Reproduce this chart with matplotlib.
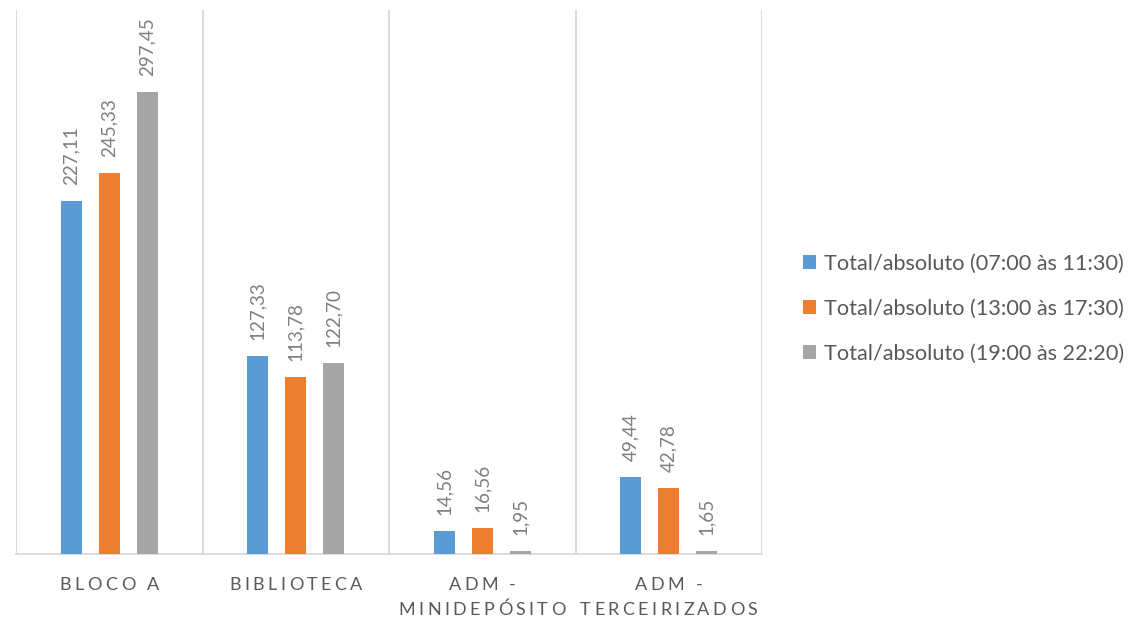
import matplotlib
matplotlib.use("Agg")
import matplotlib.pyplot as plt
from matplotlib.font_manager import FontProperties
import numpy as np

categories = ["BLOCO A", "BIBLIOTECA", "ADM -\nMINIDEPÓSITO", "ADM -\nTERCEIRIZADOS"]
series_names = ["Total/absoluto (07:00 às 11:30)",
                "Total/absoluto (13:00 às 17:30)",
                "Total/absoluto (19:00 às 22:20)"]
manha = [227.11, 127.33, 14.56, 49.44]
tarde = [245.33, 113.78, 16.56, 42.78]
noite = [297.45, 122.70, 1.95, 1.65]
colors = ["#5B9BD5", "#ED7D31", "#A5A5A5"]

plt.rcParams['font.family'] = ['Lato', 'DejaVu Sans']

W, H = 1135, 637
fig = plt.figure(figsize=(W / 100, H / 100), dpi=100)
ax = fig.add_axes([16 / W, 83 / H, (762 - 16) / W, (554 - 10) / H])

x = np.arange(len(categories))
offsets = [-0.204, 0.0, 0.204]
width = 0.113
handles = []
for vals, off, c, name in zip([manha, tarde, noite], offsets, colors, series_names):
    bars = ax.bar(x + off, vals, width, color=c, label=name, zorder=3)
    handles.append(bars)
    for xi, v in zip(x + off, vals):
        ax.annotate(f"{v:.2f}".replace(".", ","), (xi, v), xytext=(0, 11.5),
                    textcoords="offset points", rotation=90, ha="center", va="bottom",
                    fontsize=13.6, color="#7F7F7F")

ax.set_xlim(-0.5, len(categories) - 0.5)
ax.set_ylim(0, 350)
ax.set_yticks([])
ax.set_xticks([])
for b in np.arange(-0.5, len(categories), 1.0):
    ax.axvline(b, color="#D9D9D9", lw=1.3, zorder=1)
for s in ["top", "left", "right"]:
    ax.spines[s].set_visible(False)
ax.spines["bottom"].set_color("#D9D9D9")
ax.spines["bottom"].set_linewidth(1.3)

# category labels with letter spacing (drawn char by char)
renderer = fig.canvas.get_renderer()
fp = FontProperties(family=['Lato', 'DejaVu Sans'], size=13)

def char_w(ch):
    w1 = renderer.get_text_width_height_descent("X" + ch + "X", fp, ismath=False)[0]
    w0 = renderer.get_text_width_height_descent("XX", fp, ismath=False)[0]
    return w1 - w0

spacing_px = 3.4
for xi, cat in zip(x, categories):
    cx = ax.transData.transform((xi, 0))[0]
    for j, line in enumerate(cat.split("\n")):
        ws = [char_w(ch) for ch in line]
        total = sum(ws) + spacing_px * (len(line) - 1)
        px = cx - total / 2
        base = 590 + 25 * j
        for ch, w in zip(line, ws):
            fig.text(px / W, 1 - base / H, ch, fontproperties=fp, color="#595959",
                     ha="left", va="baseline")
            px += w + spacing_px

leg = fig.legend(handles=handles, labels=series_names, loc="upper left",
                 bbox_to_anchor=(803 / W, 1 - 254 / H), frameon=False,
                 fontsize=15.6, labelcolor="#595959", handlelength=0.6,
                 handleheight=0.6, handletextpad=0.37, labelspacing=1.15,
                 borderpad=0, borderaxespad=0)

fig.savefig("out.png", dpi=100)
